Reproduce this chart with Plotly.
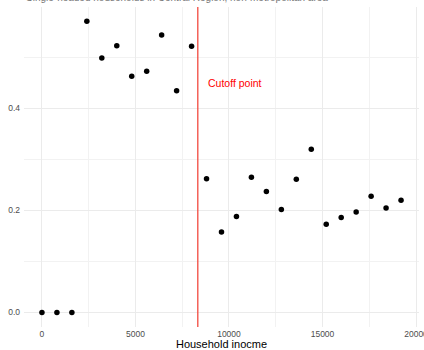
import plotly.graph_objects as go

# Data
income = [0, 800, 1600, 2400, 3200, 4000, 4800, 5600, 6400, 7200, 8000, 8800, 9600,
          10400, 11200, 12000, 12800, 13600, 14400, 15200, 16000, 16800, 17600, 18400, 19200]
share = [0.0, 0.0, 0.0, 0.571, 0.499, 0.523, 0.463, 0.473, 0.544, 0.435, 0.522, 0.262, 0.158,
         0.188, 0.265, 0.237, 0.202, 0.261, 0.320, 0.173, 0.186, 0.197, 0.228, 0.205, 0.220]
cutoff = 8333
cutoff_label = "Cutoff point"
label_x = cutoff + 2000
label_y = 0.45
title_text = "Single-headed households in Central Region, non-metropolitan area"
x_title = "Household inocme"
x_ticks = [0, 5000, 10000, 15000, 20000]
y_ticks = [0.0, 0.2, 0.4]

FONT = "Liberation Sans, Arial, sans-serif"
GRID = "#EBEBEB"

fig = go.Figure()
fig.add_trace(go.Scatter(
    x=income, y=share, mode="markers",
    marker=dict(color="black", size=5.5),
    showlegend=False, hoverinfo="x+y",
))

fig.add_shape(type="line", xref="x", yref="paper", x0=cutoff, x1=cutoff, y0=0, y1=1,
              line=dict(color="#F2493F", width=1.3))

fig.add_annotation(x=label_x, y=label_y, xref="x", yref="y", text=cutoff_label,
                   showarrow=False, font=dict(family=FONT, size=10.5, color="#FF0000"))

fig.add_annotation(x=0, y=1.029, xref="paper", yref="paper", text=title_text,
                   showarrow=False, xanchor="left", yanchor="middle",
                   font=dict(family=FONT, size=10, color="#777777"))

fig.update_layout(
    width=424, height=350,
    margin=dict(l=24, r=5, t=7, b=23, autoexpand=False),
    paper_bgcolor="white", plot_bgcolor="white",
    font=dict(family=FONT),
    xaxis=dict(
        range=[-960, 20160], tickvals=x_ticks, ticktext=[str(v) for v in x_ticks],
        showgrid=True, gridcolor=GRID, gridwidth=1.1, zeroline=False, showline=False,
        ticks="", tickfont=dict(size=8.5, color="#4D4D4D"), ticklabelstandoff=0,
        ticklabeloverflow="allow", automargin=False,
        minor=dict(dtick=2500, tick0=0, showgrid=True, gridcolor="#F2F2F2", gridwidth=0.8),
        title=dict(text=x_title, font=dict(size=11, color="black"), standoff=3),
    ),
    yaxis=dict(
        range=[-0.0285, 0.599], tickvals=y_ticks, ticktext=["0.0", "0.2", "0.4"],
        showgrid=True, gridcolor=GRID, gridwidth=1.1, zeroline=False, showline=False,
        ticks="", tickfont=dict(size=8.5, color="#4D4D4D"), ticklabelstandoff=3,
        ticklabeloverflow="allow", automargin=False,
        minor=dict(dtick=0.1, tick0=0, showgrid=True, gridcolor="#F2F2F2", gridwidth=0.8),
    ),
)

fig.write_html("out.html", config={"displayModeBar": False},
               post_script="document.body.style.margin='0';")
